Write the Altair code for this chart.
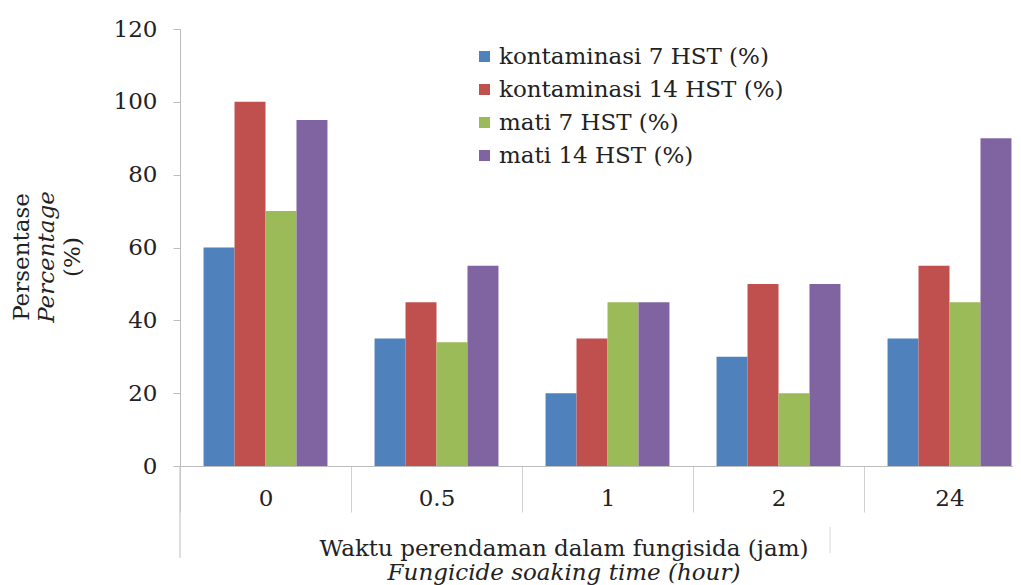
import altair as alt
import pandas as pd

categories = ["0", "0.5", "1", "2", "24"]
series = ["kontaminasi 7 HST (%)", "kontaminasi 14 HST (%)", "mati 7 HST (%)", "mati 14 HST (%)"]
kont7 = [60, 35, 20, 30, 35]
kont14 = [100, 45, 35, 50, 55]
mati7 = [70, 34, 45, 20, 45]
mati14 = [95, 55, 45, 50, 90]
colors = ["#4F81BD", "#C0504D", "#9BBB59", "#8064A2"]
y_ticks = [0, 20, 40, 60, 80, 100, 120]

rows = []
for s, vals in zip(series, [kont7, kont14, mati7, mati14]):
    for c, v in zip(categories, vals):
        rows.append({"waktu": c, "seri": s, "nilai": v})
df = pd.DataFrame(rows)

W, H = 833, 437
FONT = "DejaVu Serif"
FS = 23
TXT = "#222222"
AX = "#bdbdbd"

bars = alt.Chart(df).mark_bar().encode(
    x=alt.X("waktu:N", sort=categories,
            scale=alt.Scale(range=[0, 855], paddingInner=0, paddingOuter=0),
            axis=alt.Axis(title=None, labelAngle=0, tickBand="extent", tickSize=46,
                          tickColor="#d0d0d0", domainColor=AX, labelPadding=-25,
                          labelFont=FONT, labelFontSize=FS, labelColor=TXT)),
    xOffset=alt.XOffset("seri:N", sort=series,
                        scale=alt.Scale(paddingInner=0, paddingOuter=0.76)),
    y=alt.Y("nilai:Q", scale=alt.Scale(domain=[0, 120], nice=False),
            axis=alt.Axis(title=None, values=y_ticks, grid=False, tickSize=7,
                          tickColor=AX, domainColor=AX, labelPadding=16,
                          labelFont=FONT, labelFontSize=FS, labelColor=TXT)),
    color=alt.Color("seri:N", sort=series,
                    scale=alt.Scale(domain=series, range=colors),
                    legend=alt.Legend(title=None, orient="none", legendX=293, legendY=16,
                                      symbolType="square", symbolSize=121, symbolStrokeWidth=0,
                                      labelFont=FONT, labelFontSize=FS, labelColor=TXT,
                                      rowPadding=9, labelOffset=3, labelLimit=0)),
)

one = pd.DataFrame({"k": [0]})

def label(txt, x, y, angle=0, italic=False):
    kw = dict(font=FONT, fontSize=FS, color=TXT, align="center", baseline="middle")
    if angle:
        kw["angle"] = angle
    if italic:
        kw["fontStyle"] = "italic"
    return alt.Chart(one).mark_text(**kw).encode(
        x=alt.value(x), y=alt.value(y), text=alt.value(txt))

texts = [
    label("Persentase", -158, 228, angle=270),
    label("Percentage", -133, 228, angle=270, italic=True),
    label("(%)", -107, 228, angle=270),
    label("Waktu perendaman dalam fungisida (jam)", 384, 520),
    label("Fungicide soaking time (hour)", 384, 544, italic=True),
]

ext_rule = alt.Chart(one).mark_rule(color=AX).encode(
    x=alt.value(0), y=alt.value(437), y2=alt.value(529))
frag_rule = alt.Chart(one).mark_rule(color="#d8d8d8").encode(
    x=alt.value(650), y=alt.value(498), y2=alt.value(524))

chart = alt.layer(bars, ext_rule, frag_rule, *texts).properties(
    width=W, height=H,
    autosize=alt.AutoSizeParams(type="none"),
    padding={"left": 172, "top": 21, "right": 0, "bottom": 119},
).configure_view(stroke=None)

chart.save("out.html", embed_options={"renderer": "svg", "actions": False})
